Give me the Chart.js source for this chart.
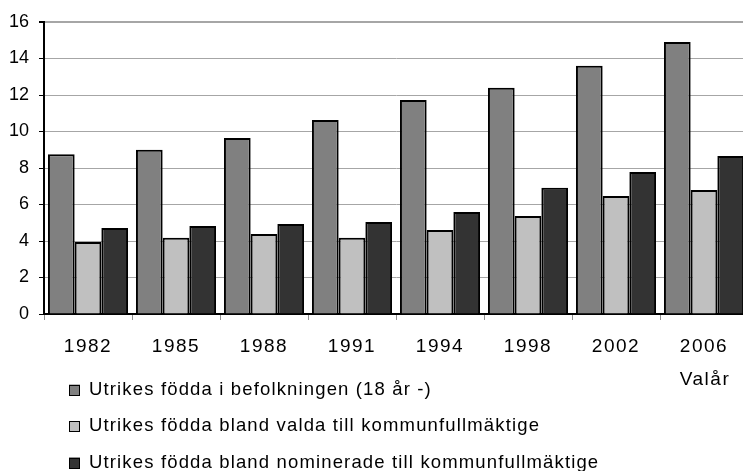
<!DOCTYPE html>
<html>
<head>
<meta charset="utf-8">
<script src="https://cdn.jsdelivr.net/npm/chart.js@4"></script>
<style>
  body { margin: 0; background: #fff; }
  #wrap { width: 743px; height: 471px; overflow: hidden; position: relative; }
  canvas { display: block; }
</style>
</head>
<body>
<div id="wrap"><canvas id="valChart" width="748" height="471"></canvas></div>
<script>
const years = ['1982', '1985', '1988', '1991', '1994', '1998', '2002', '2006'];
const befolkning = [8.75, 9.0, 9.65, 10.63, 11.73, 12.4, 13.6, 14.9];
const valda = [3.95, 4.18, 4.38, 4.18, 4.6, 5.37, 6.47, 6.8];
const nominerade = [4.71, 4.82, 4.93, 5.04, 5.59, 6.92, 7.78, 8.66];
const seriesNames = [
  'Utrikes födda i befolkningen (18 år -)',
  'Utrikes födda bland valda till kommunfullmäktige',
  'Utrikes födda bland nominerade till kommunfullmäktige'
];
const axisTitle = 'Valår';
const yMax = 16;
const yStep = 2;

const FONT = '"Liberation Sans", Arial, sans-serif';

// the x labels are set a little wider than the y labels
const spacing = {
  id: 'spacing',
  afterLayout(c) {
    const xs = c.scales.x;
    if (xs._spaced) return;
    const orig = xs.drawLabels;
    xs.drawLabels = function (area) {
      this.ctx.letterSpacing = '1.5px';
      orig.call(this, area);
      this.ctx.letterSpacing = '0px';
    };
    xs._spaced = true;
  }
};

// legend rows and the x axis title, drawn straight onto the canvas
const extras = {
  id: 'extras',
  afterDraw(c) {
    const ctx = c.ctx;
    ctx.save();
    ctx.fillStyle = '#000';
    ctx.textBaseline = 'middle';

    const xs = c.scales.x;
    ctx.letterSpacing = '1.5px';
    ctx.font = '19px ' + FONT;
    ctx.textAlign = 'center';
    ctx.fillText(axisTitle, xs.getPixelForValue(years.length - 1) + 1, 380);

    ctx.letterSpacing = '1.15px';
    ctx.font = '18.5px ' + FONT;
    ctx.textAlign = 'left';
    c.data.datasets.forEach((ds, i) => {
      const cy = 390 + i * 36.5;
      ctx.fillStyle = ds.backgroundColor;
      ctx.fillRect(69, cy - 5.5, 11, 11);
      ctx.strokeStyle = '#000';
      ctx.lineWidth = 1;
      ctx.strokeRect(69.5, Math.round(cy - 5.5) + 0.5, 10, 10);
      ctx.fillStyle = '#000';
      ctx.fillText(ds.label, 89, cy - 0.5);
    });
    ctx.restore();
  }
};

let chart;
function initChart() {
  const ctx = document.getElementById('valChart');
  chart = new Chart(ctx, {
    type: 'bar',
    data: {
      labels: years,
      datasets: [
        { label: seriesNames[0], data: befolkning, backgroundColor: '#808080' },
        { label: seriesNames[1], data: valda, backgroundColor: '#c0c0c0' },
        { label: seriesNames[2], data: nominerade, backgroundColor: '#333333' }
      ].map(d => Object.assign(d, {
        borderColor: '#000',
        borderWidth: 2,
        categoryPercentage: 0.91,
        barPercentage: 1
      }))
    },
    options: {
      responsive: false,
      animation: false,
      layout: { padding: { top: 22, left: 0, right: 0, bottom: 0 } },
      plugins: {
        legend: { display: false },
        tooltip: { enabled: false }
      },
      scales: {
        x: {
          grid: {
            offset: true,
            drawOnChartArea: false,
            tickLength: 6,
            tickColor: '#909090'
          },
          border: { color: '#000', width: 2 },
          ticks: {
            color: '#000',
            padding: 15,
            maxRotation: 0,
            font: { family: FONT, size: 19 }
          },
          afterFit(s) { s.height = 157; }
        },
        y: {
          min: 0,
          max: yMax,
          ticks: {
            stepSize: yStep,
            color: '#000',
            padding: 10,
            font: { family: FONT, size: 18 }
          },
          grid: {
            color: '#a6a6a6',
            lineWidth: c => (c.tick && c.tick.value === yMax ? 2 : 1),
            tickLength: 5,
            tickColor: '#000'
          },
          border: { color: '#000', width: 2 },
          afterFit(s) { s.width = 44; }
        }
      }
    },
    plugins: [spacing, extras]
  });
}

document.addEventListener('DOMContentLoaded', () => {
  initChart();
});
</script>
</body>
</html>
